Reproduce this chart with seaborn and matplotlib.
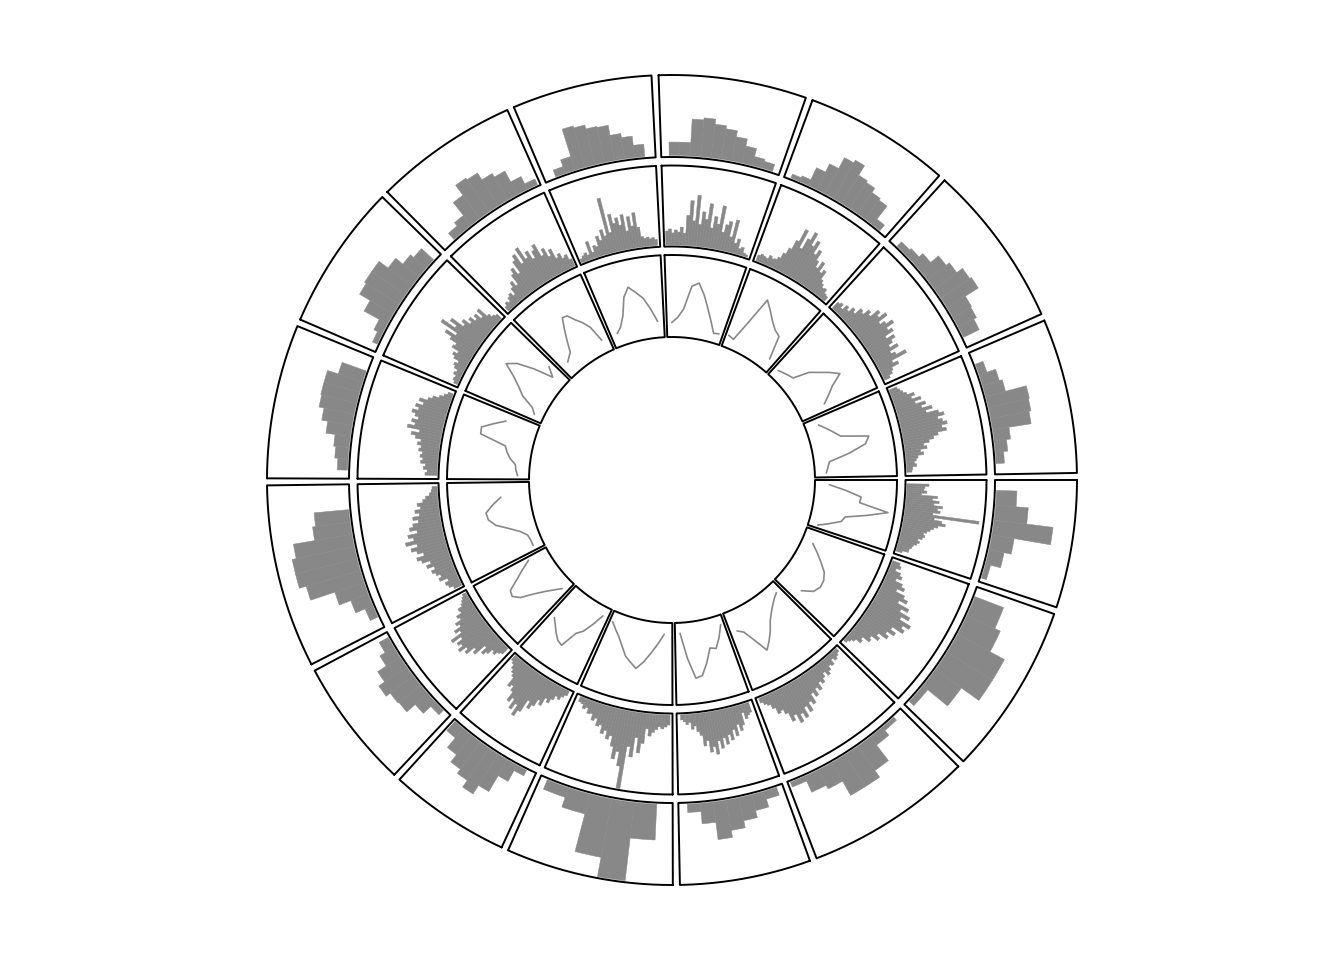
import numpy as np
import matplotlib
matplotlib.use("Agg")
import matplotlib.pyplot as plt
import seaborn as sns

sns.set_theme(style="white")

# ---------------- data ----------------
SECTORS = list("abcdefghijklmnop")
# data range (xlim width) of each sector -> sector width is proportional to it
SECTOR_RANGE = [4.26, 5.74, 5.60, 4.37, 5.58, 4.05, 4.33, 6.12,
                5.14, 4.88, 4.81, 4.67, 4.93, 4.88, 5.47, 5.16]

# outer track: coarse histograms (counts per bin)
OUTER_COUNTS = [
    [20, 32, 58, 22, 15, 5],
    [30, 36, 52, 52, 31, 6],
    [4, 10, 29, 37, 37, 21, 17, 5],
    [8, 16, 23, 30, 37, 20, 8],
    [35, 77, 58, 20, 10],
    [6, 18, 36, 46, 38, 33, 24, 12],
    [6, 16, 27, 28, 33, 26, 16, 10],
    [8, 18, 30, 55, 62, 62, 58, 37, 34],
    [10, 13, 15, 24, 30, 35, 36, 36, 25],
    [5, 9, 26, 38, 40, 40, 29, 20, 16],
    [8, 12, 28, 40, 38, 30, 26, 14, 6],
    [7, 14, 42, 40, 36, 35, 25, 21, 12],
    [13, 13, 36, 38, 33, 30, 24, 17, 9, 7],
    [4, 6, 19, 28, 40, 43, 32, 30, 25, 23, 7],
    [6, 8, 13, 23, 27, 34, 36, 21, 20, 17],
    [8, 17, 20, 41, 40, 38, 16, 12, 8],
]
# first/last break of each outer histogram, as fraction of the sector range
OUTER_SPAN = [(0.10, 0.96), (0.07, 0.96), (0.08, 0.98), (0.06, 0.915),
              (0.117, 0.946), (0.10, 0.98), (0.08, 0.95), (0.08, 0.83),
              (0.068, 0.877), (0.067, 0.924), (0.12, 0.976), (0.10, 0.905),
              (0.066, 0.94), (0.057, 0.93), (0.07, 0.92), (0.104, 0.914)]

# middle track: fine histograms
MIDDLE_COUNTS = [
    [22, 18, 17, 20, 15, 31, 26, 33, 28, 37, 32, 35, 28, 75, 30, 38, 42, 35, 31, 28, 25, 22, 24, 22, 18, 20, 18, 15, 14, 12, 12, 6],
    [8, 10, 6, 12, 15, 10, 18, 22, 15, 25, 30, 22, 35, 28, 40, 32, 45, 38, 42, 30, 36, 28, 32, 22, 26, 18, 20, 12, 14, 8, 5, 3],
    [4, 6, 8, 5, 10, 8, 12, 15, 10, 14, 18, 15, 22, 18, 25, 20, 30, 26, 35, 28, 38, 32, 40, 30, 35, 25, 20, 22, 15, 10, 8, 5],
    [10, 12, 15, 8, 20, 25, 18, 29, 22, 32, 26, 35, 28, 38, 30, 43, 35, 40, 28, 33, 22, 18, 12, 15, 8, 10, 7, 5],
    [10, 12, 14, 12, 15, 18, 22, 15, 30, 40, 25, 45, 35, 78, 56, 42, 50, 38, 28, 32, 24, 28, 20, 22, 15, 18, 12, 13, 8, 10, 6, 5],
    [5, 8, 12, 10, 15, 20, 17, 26, 22, 30, 35, 28, 42, 49, 38, 45, 35, 40, 30, 25, 28, 18, 15, 12, 8, 6],
    [8, 10, 14, 12, 18, 22, 15, 28, 24, 34, 30, 38, 32, 35, 28, 38, 25, 30, 22, 25, 18, 20, 14, 15, 10, 8, 6, 4],
    [8, 12, 14, 10, 18, 15, 19, 22, 18, 25, 20, 28, 32, 24, 30, 35, 28, 39, 30, 35, 25, 32, 28, 22, 27, 20, 24, 18, 21, 15, 12, 8, 6, 5],
    [12, 10, 14, 12, 17, 15, 18, 16, 20, 18, 22, 19, 25, 30, 22, 35, 28, 32, 26, 30, 34, 28, 32, 25, 30, 22, 18, 12, 8, 5],
    [4, 6, 5, 8, 6, 10, 12, 9, 15, 18, 14, 22, 20, 28, 36, 25, 45, 30, 38, 24, 28, 20, 24, 18, 22, 15, 23, 12, 8, 6],
    [5, 8, 6, 10, 12, 8, 15, 20, 14, 25, 30, 22, 35, 40, 28, 44, 30, 36, 26, 33, 38, 24, 30, 20, 26, 15, 18, 12, 14, 8],
    [4, 6, 8, 5, 18, 6, 12, 10, 20, 15, 25, 18, 56, 20, 38, 28, 33, 25, 35, 18, 32, 22, 35, 20, 10, 8, 9, 7, 8, 6],
    [14, 16, 12, 15, 13, 18, 12, 30, 45, 25, 51, 22, 35, 28, 44, 20, 32, 25, 44, 18, 26, 30, 15, 33, 10, 15, 6, 8, 3, 2],
    [6, 8, 7, 6, 10, 8, 9, 12, 18, 25, 35, 49, 30, 42, 51, 38, 45, 32, 38, 28, 22, 30, 20, 24, 15, 12, 9, 10, 6, 5],
    [8, 10, 6, 12, 9, 15, 12, 20, 18, 25, 22, 32, 28, 36, 25, 30, 37, 28, 32, 22, 30, 25, 20, 28, 18, 22, 32, 15, 20, 12, 10, 6],
    [8, 10, 12, 15, 22, 18, 27, 20, 30, 25, 35, 28, 40, 45, 38, 42, 46, 40, 44, 35, 30, 25, 19, 22, 15, 18, 12, 10, 8, 10, 6, 5],
]
MIDDLE_SPAN = [(0.05, 0.96), (0.03, 0.96), (0.03, 0.97), (0.05, 0.95),
               (0.025, 0.96), (0.06, 0.97), (0.05, 0.97), (0.02, 0.97),
               (0.04, 0.96), (0.03, 0.96), (0.03, 0.98), (0.02, 0.97),
               (0.02, 0.97), (0.03, 0.96), (0.03, 0.96), (0.03, 0.96)]

# inner track: line values
INNER_VALUES = [
    [13, 30, 46, 45, 75, 54, 33, 30, 19, 8],
    [10, 18, 26, 34, 38, 39, 36, 26],
    [9, 12, 16, 21, 27, 36, 44, 51, 36, 24, 20],
    [8, 20, 30, 28, 42, 54, 56, 35, 9],
    [10, 20, 30, 40, 48, 43, 38, 29, 21, 15, 9],
    [8, 20, 31, 37, 55, 53, 48, 42, 37],
    [10, 17, 25, 35, 48, 54, 52, 40, 30, 20],
    [9, 9, 10, 16, 26, 38, 44, 45, 37, 28],
    [10, 12, 13, 19, 23, 26, 53, 54, 43, 32],
    [8, 13, 27, 35, 45, 59, 50, 33, 13, 23],
    [13, 16, 19, 30, 41, 52, 51, 43, 37, 29, 12],
    [12, 17, 27, 45, 54, 47, 40, 28, 15],
    [13, 18, 27, 51, 55, 44, 31, 19, 8, 9],
    [11, 9, 30, 60, 52, 44, 38, 35, 11],
    [8, 10, 12, 14, 30, 38, 47, 55, 42, 34, 26],
    [12, 18, 24, 30, 58, 53, 35, 14, 12, 10],
]
INNER_SPAN = [(0.093, 0.94), (0.20, 0.86), (0.09, 0.90), (0.07, 0.90),
              (0.125, 0.954), (0.12, 0.90), (0.11, 0.94), (0.072, 0.81),
              (0.063, 0.873), (0.105, 0.92), (0.155, 0.87), (0.124, 0.886),
              (0.085, 0.93), (0.052, 0.886), (0.077, 0.90), (0.117, 0.928)]
INNER_YMAX = 80

# ---------------- layout / style ----------------
W, H, DPI = 1344, 960, 100
CX, CY = 672, 480
GAP_DEG = 1.0
GRAY = "#888888"
TRACKS = {"outer": (323, 405), "middle": (233.5, 314.5), "inner": (143, 225)}

fig = plt.figure(figsize=(W / DPI, H / DPI), dpi=DPI)
fig.patch.set_facecolor("white")

deg_per_unit = (360 - GAP_DEG * len(SECTORS)) / sum(SECTOR_RANGE)
starts, widths = [], []
acc = 0.0
for rng in SECTOR_RANGE:
    w = rng * deg_per_unit
    starts.append(acc)
    widths.append(w)
    acc += w + GAP_DEG


def theta(i, frac):
    return np.deg2rad(starts[i] + np.asarray(frac, dtype=float) * widths[i])


def make_track(name):
    r_in, r_out = TRACKS[name]
    ax = fig.add_axes([(CX - r_out) / W, (CY - r_out) / H, 2 * r_out / W, 2 * r_out / H],
                      projection="polar")
    ax.set_theta_zero_location("E")
    ax.set_theta_direction(-1)
    ax.set_axis_off()
    return ax


def finish_track(ax, name, ymax):
    r_in, r_out = TRACKS[name]
    pad = 0.02 * ymax / 0.96
    lo, hi = -pad, ymax + pad
    k = r_in / r_out
    ax.set_thetamin(0)
    ax.set_thetamax(360)
    ax.set_ylim(lo, hi)
    ax.set_rorigin((k * hi - lo) / (k - 1))
    for i in range(len(SECTORS)):
        t = theta(i, np.linspace(0, 1, 120))
        tt = np.concatenate([t, t[::-1], t[:1]])
        rr = np.concatenate([np.full(t.size, hi), np.full(t.size, lo), [hi]])
        ax.plot(tt, rr, color="black", lw=1.4, clip_on=False)


def hist_track(name, counts_list, spans):
    ax = make_track(name)
    for i, (counts, span) in enumerate(zip(counts_list, spans)):
        counts = np.asarray(counts, dtype=float)
        edges = theta(i, np.linspace(span[0], span[1], counts.size + 1))
        centers = 0.5 * (edges[:-1] + edges[1:])
        sns.histplot(x=list(centers), weights=list(counts), bins=[float(e) for e in edges],
                     ax=ax, color=GRAY, edgecolor=GRAY, linewidth=0.35, alpha=1,
                     stat="count")
    finish_track(ax, name, max(max(c) for c in counts_list))


hist_track("outer", OUTER_COUNTS, OUTER_SPAN)
hist_track("middle", MIDDLE_COUNTS, MIDDLE_SPAN)

ax_in = make_track("inner")
for i, (vals, span) in enumerate(zip(INNER_VALUES, INNER_SPAN)):
    th = theta(i, np.linspace(span[0], span[1], len(vals)))
    sns.lineplot(x=th, y=vals, ax=ax_in, color=GRAY, lw=1.2, estimator=None, sort=False)
finish_track(ax_in, "inner", INNER_YMAX)

fig.savefig("out.png", dpi=DPI, facecolor="white")
